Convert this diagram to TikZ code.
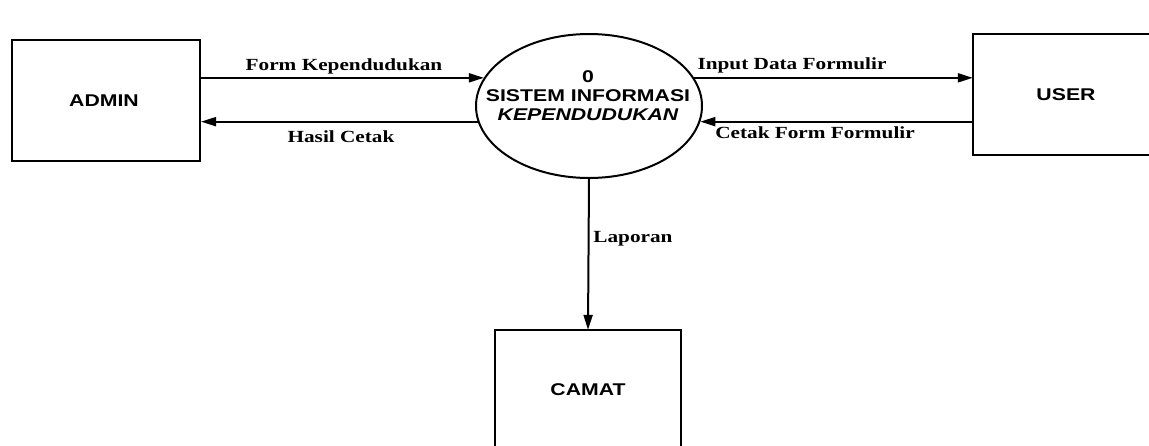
\documentclass[tikz,border=0pt]{standalone}
\usepackage{fontspec}
\setmainfont{Liberation Serif}
\newfontfamily\arialf{Liberation Sans}
\usetikzlibrary{arrows.meta,shapes.geometric}
\newcommand\hstretch[1]{\scalebox{1.25}[1]{#1}}
\tikzset{
  ent/.style={inner sep=0pt},
  lbl/.style={inner sep=0pt,font=\fontsize{17}{19}\selectfont\bfseries},
  enttxt/.style={inner sep=0pt,font=\arialf\fontsize{17}{19}\selectfont\bfseries},
  flow/.style={line width=2pt,-{Triangle[length=15pt,width=9pt]}},
  edge/.style={line width=2pt}
}
\begin{document}
\begin{tikzpicture}[x=1pt,y=-1pt]
\useasboundingbox (0,0) rectangle (1149,445);
% entities
\node[ent,draw,line width=2pt,minimum width=188pt,minimum height=121pt] (admin) at (106,100.5) {};
\node[enttxt] (admintxt) at (104,101) {\hstretch{ADMIN}};
\node[ent,minimum width=176pt,minimum height=121pt] (user) at (1061,94.5) {};
\node[enttxt] (usertxt) at (1066,95) {\hstretch{USER}};
\draw[edge] (user.north east) -- (user.north west) -- (user.south west) -- (user.south east);
\node[ent,minimum width=186pt,minimum height=117pt] (camat) at (588,388.5) {};
\node[enttxt] (camattxt) at (588,390) {\hstretch{CAMAT}};
\draw[edge] (camat.south west) -- (camat.north west) -- (camat.north east) -- (camat.south east);
% process
\node[ellipse,draw,line width=2pt,minimum width=226pt,minimum height=144pt,inner sep=0pt] (sys) at (589,106) {};
\node[align=center,inner sep=0pt,font=\arialf\fontsize{17}{19}\selectfont\bfseries] (systxt) at (588,96)
  {\hstretch{0}\\\hstretch{SISTEM INFORMASI}\\\hstretch{\itshape KEPENDUDUKAN}};
% flows
\draw[flow] (admin.east |- sys.165) -- (sys.165);
\draw[flow] (sys.188) -- (admin.east |- sys.188);
\draw[flow] (sys.15) -- (user.west |- sys.15);
\draw[flow] (user.west |- sys.352) -- (sys.352);
\draw[flow] (sys.south) -- (camat.north);
% labels
\node[lbl] (l1) at (344,66) {\hstretch{Form Kependudukan}};
\node[lbl] (l2) at (341,137) {\hstretch{Hasil Cetak}};
\node[lbl] (l3) at (792,65) {\hstretch{Input Data Formulir}};
\node[lbl] (l4) at (815,133) {\hstretch{Cetak Form Formulir}};
\node[lbl] (l5) at (633,239) {\hstretch{Laporan}};
\end{tikzpicture}
\end{document}
